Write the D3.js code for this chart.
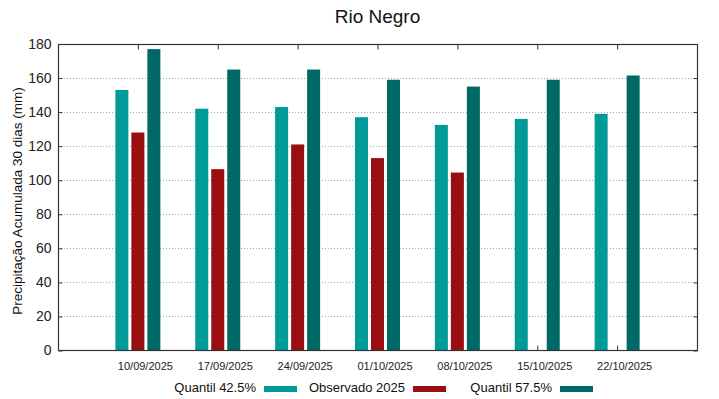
<!DOCTYPE html>
<html>
<head>
<meta charset="utf-8">
<script src="https://cdn.jsdelivr.net/npm/d3@7"></script>
<style>
    body { margin: 0; background: #fff; }
    svg { font-family: "Liberation Sans", Arial, sans-serif; }
</style>
</head>
<body>
<div id="chart"></div>
<script>
// values
const datas = ["10/09/2025", "17/09/2025", "24/09/2025", "01/10/2025", "08/10/2025", "15/10/2025", "22/10/2025"];
const quantil425 = [153, 142, 143, 137, 132.5, 136, 139];
const observado = [128, 106.5, 121, 113, 104.5, null, null];
const quantil575 = [177, 165, 165, 159, 155, 159, 161.5];
const series = ["Quantil 42.5%", "Observado 2025", "Quantil 57.5%"];
const cores = ["#009b99", "#990f0f", "#006865"];
const yTicks = [0, 20, 40, 60, 80, 100, 120, 140, 160, 180];

let desenha = () => {
    const w = 719, h = 399;
    const margin = { left: 58, right: 22, top: 44, bottom: 49 };

    const svg = d3.select("#chart")
        .append("svg")
        .attr("width", w)
        .attr("height", h);

    const x = d3.scalePoint()
        .domain(datas)
        .range([margin.left, w - margin.right])
        .padding(1);

    const xs = d3.scaleBand()
        .domain(series)
        .range([-22.5, 22.5])
        .paddingInner(0.1875);

    const y = d3.scaleLinear()
        .domain([0, 180])
        .range([h - margin.bottom + 0.5, margin.top]);

    // grid pontilhado
    svg.append("g")
        .selectAll("line")
        .data(yTicks.slice(1, -1))
        .enter()
        .append("line")
        .attr("x1", margin.left)
        .attr("x2", w - margin.right)
        .attr("y1", d => Math.round(y(d)) + 0.5)
        .attr("y2", d => Math.round(y(d)) + 0.5)
        .attr("stroke", "#a8a8a8")
        .attr("stroke-width", 1)
        .attr("stroke-dasharray", "1,2");

    // barras
    const valores = [quantil425, observado, quantil575];
    const linhas = [];
    datas.forEach((d, i) => {
        series.forEach((s, j) => {
            if (valores[j][i] != null) linhas.push({ data: d, serie: s, v: valores[j][i], cor: cores[j] });
        });
    });

    svg.append("g")
        .selectAll("rect")
        .data(linhas)
        .enter()
        .append("rect")
        .attr("x", d => x(d.data) + xs(d.serie))
        .attr("width", xs.bandwidth())
        .attr("y", d => y(d.v))
        .attr("height", d => y(0) - y(d.v))
        .attr("fill", d => d.cor);

    // moldura
    svg.append("rect")
        .attr("x", margin.left + 0.5)
        .attr("y", margin.top + 0.5)
        .attr("width", w - margin.left - margin.right)
        .attr("height", h - margin.top - margin.bottom)
        .attr("fill", "none")
        .attr("stroke", "#333")
        .attr("stroke-width", 1.2);

    // eixo y esquerdo e direito (ticks para dentro)
    svg.append("g")
        .attr("transform", "translate(" + (margin.left + 0.5) + ",0)")
        .call(d3.axisLeft(y).tickValues(yTicks).tickSizeInner(-4).tickSizeOuter(0).tickPadding(7))
        .call(g => g.select(".domain").remove())
        .call(g => g.selectAll("line").attr("stroke", "#333"))
        .call(g => g.selectAll("text").attr("font-size", "14px").attr("fill", "#222")
            .attr("font-family", "Liberation Sans, Arial, sans-serif"));

    svg.append("g")
        .attr("transform", "translate(" + (w - margin.right + 0.5) + ",0)")
        .call(d3.axisRight(y).tickValues(yTicks).tickSizeInner(-4).tickSizeOuter(0).tickFormat(""))
        .call(g => g.select(".domain").remove())
        .call(g => g.selectAll("line").attr("stroke", "#333"));

    // ticks x em cima e em baixo
    svg.append("g")
        .attr("transform", "translate(0," + (margin.top + 0.5) + ")")
        .call(d3.axisTop(x).tickSizeInner(-5).tickSizeOuter(0).tickFormat(""))
        .call(g => g.select(".domain").remove())
        .call(g => g.selectAll("line").attr("stroke", "#333"));

    const xBottom = svg.append("g")
        .attr("transform", "translate(0," + (h - margin.bottom + 0.5) + ")")
        .call(d3.axisBottom(x).tickSizeInner(-5).tickSizeOuter(0).tickPadding(12))
        .call(g => g.select(".domain").remove())
        .call(g => g.selectAll("line").attr("stroke", "#333"))
        .call(g => g.selectAll("text").attr("font-size", "11px").attr("fill", "#222")
            .attr("dx", 7).attr("font-family", "Liberation Sans, Arial, sans-serif"));
    // as barras ficam por cima dos ticks de baixo
    xBottom.lower();

    // titulo
    svg.append("text")
        .attr("x", (margin.left + w - margin.right) / 2)
        .attr("y", 23)
        .attr("text-anchor", "middle")
        .attr("font-size", "19px")
        .attr("fill", "#111")
        .text("Rio Negro");

    // rotulo y
    svg.append("text")
        .attr("transform", "translate(22,201) rotate(-90)")
        .attr("text-anchor", "middle")
        .attr("font-size", "13.5px")
        .attr("fill", "#111")
        .text("Precipitação Acumulada 30 dias (mm)");

    // legenda
    const legX = [256, 405, 552];
    const leg = svg.append("g")
        .selectAll("g")
        .data(series)
        .enter()
        .append("g")
        .attr("transform", (d, i) => "translate(" + legX[i] + ",392)");

    leg.append("text")
        .attr("text-anchor", "end")
        .attr("font-size", "13px")
        .attr("fill", "#111")
        .text(d => d);

    leg.append("rect")
        .attr("x", 8)
        .attr("y", -6)
        .attr("width", 33)
        .attr("height", 6)
        .attr("fill", (d, i) => cores[i]);
}

desenha();
</script>
</body>
</html>
